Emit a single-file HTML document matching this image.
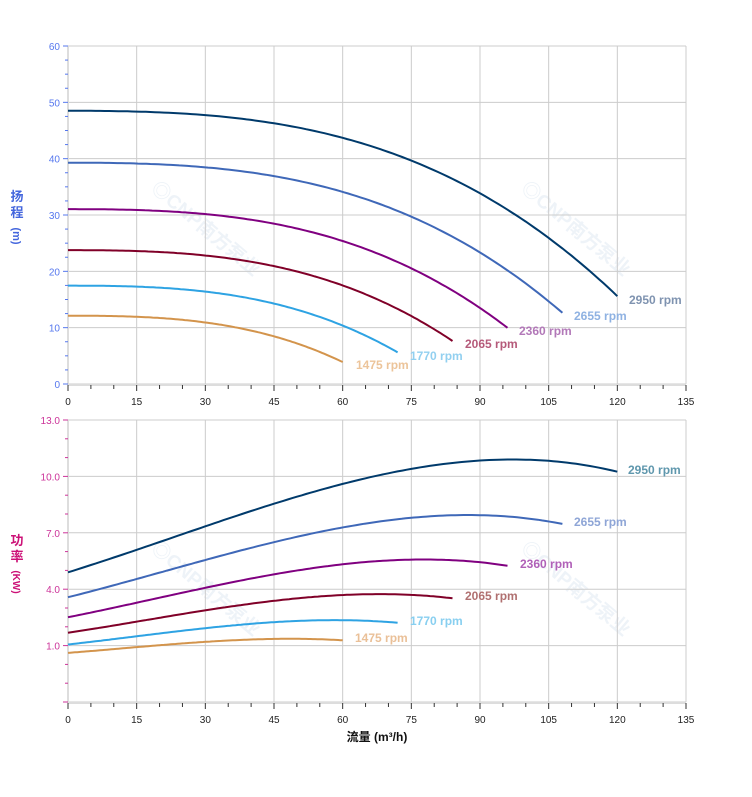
<!DOCTYPE html>
<html><head><meta charset="utf-8"><style>
body{margin:0;background:#fff;}
svg{display:block;font-family:"Liberation Sans","Noto Sans CJK SC",sans-serif;}
</style></head><body>
<svg id="s" width="752" height="797" xmlns="http://www.w3.org/2000/svg"></svg>
<script>
const s=document.getElementById('s');let h='';
const X=q=>68+q*618/135;
const YT=v=>384-v*(338/60);
const YB=v=>420+(13-v)*(282/15);
[[150,190],[520,190],[150,550],[520,550]].forEach(([x,y])=>h+=`<text x="${x}" y="${y}" font-size="19" font-weight="bold" fill="#eef3f8" transform="rotate(40 ${x} ${y})">◎CNP南方泵业</text>`);
for(let q=0;q<=135;q+=15){h+=`<line x1="${X(q)}" y1="46" x2="${X(q)}" y2="384" stroke="#ccc"/>`;h+=`<line x1="${X(q)}" y1="420" x2="${X(q)}" y2="702" stroke="#ccc"/>`;}
for(let v=0;v<=60;v+=10)h+=`<line x1="68" y1="${YT(v)}" x2="686" y2="${YT(v)}" stroke="#ccc"/>`;
for(let v=-2;v<=13;v+=3)h+=`<line x1="68" y1="${YB(v)}" x2="686" y2="${YB(v)}" stroke="#ccc"/>`;
h+=`<line x1="68" y1="46" x2="68" y2="385" stroke="#ddd" stroke-width="2"/><line x1="68" y1="385" x2="686" y2="385" stroke="#ddd" stroke-width="2"/>`;
h+=`<line x1="68" y1="420" x2="68" y2="703" stroke="#ddd" stroke-width="2"/><line x1="68" y1="703" x2="686" y2="703" stroke="#ddd" stroke-width="2"/>`;
for(let q=0;q<=135;q+=5){const b=q%15==0;h+=`<line x1="${X(q)}" y1="385" x2="${X(q)}" y2="${b?391:389}" stroke="#333"/><line x1="${X(q)}" y1="703" x2="${X(q)}" y2="${b?709:707}" stroke="#333"/>`;
if(b){h+=`<text x="${X(q)}" y="405" font-size="10" text-anchor="middle" fill="#222">${q}</text><text x="${X(q)}" y="723" font-size="10" text-anchor="middle" fill="#222">${q}</text>`;}}
for(let v=0;v<=60;v+=2.5){const b=v%10==0;h+=`<line x1="${b?63:65}" y1="${YT(v)}" x2="68" y2="${YT(v)}" stroke="#5577ee"/>`;if(b)h+=`<text x="60" y="${YT(v)+4}" font-size="10" text-anchor="end" fill="#5577ee">${v}</text>`;}
for(let v=-2;v<=13;v+=1){const b=(v-1)%3==0;h+=`<line x1="${b?63:65}" y1="${YB(v)}" x2="68" y2="${YB(v)}" stroke="#cc3399"/>`;if(b&&v>=1)h+=`<text x="60" y="${YB(v)+4}" font-size="10" text-anchor="end" fill="#cc3399">${v.toFixed(1)}</text>`;}
h+=`<text x="17" y="201" font-size="13" fill="#4466dd" font-weight="bold" text-anchor="middle">扬</text><text x="17" y="217" font-size="13" fill="#4466dd" font-weight="bold" text-anchor="middle">程</text><text x="17" y="236" font-size="11" fill="#4466dd" font-weight="bold" text-anchor="middle" transform="rotate(90 17 236)" dy="4">(m)</text>`;
h+=`<text x="17" y="545" font-size="13" fill="#cc1177" font-weight="bold" text-anchor="middle">功</text><text x="17" y="561" font-size="13" fill="#cc1177" font-weight="bold" text-anchor="middle">率</text><text x="17" y="582" font-size="10" fill="#cc1177" font-weight="bold" text-anchor="middle" transform="rotate(90 17 582)" dy="4">(KW)</text>`;
h+=`<text x="377" y="741" font-size="12" font-weight="bold" text-anchor="middle" fill="#111">流量 (m³/h)</text>`;
const Hf=q=>48.5-3.82e-4*q*q-1.586e-5*q*q*q;
const Pf=q=>4.9+0.0754*q+3.544e-4*q*q-5.094e-6*q*q*q;
const sp=[[2950,'#003a6b','#7f93b0','#5f97ad'],[2655,'#3f68b8','#8fb2e2','#8ea5d6'],[2360,'#800080','#b278b8','#b060b8'],[2065,'#800028','#b55a7a','#b07070'],[1770,'#2ea3e3','#92d0f0','#88cff0'],[1475,'#d3944c','#ecc49a','#eac098']];
const tl={2950:[629,304],2655:[574,320],2360:[519,335],2065:[465,348],1770:[410,360],1475:[356,369]};
const bl={2950:[628,474],2655:[574,526],2360:[520,568],2065:[465,600],1770:[410,625],1475:[355,642]};
sp.forEach(([n,c,lc,lc2])=>{const r=n/2950;let a='',b='';for(let i=0;i<=120;i++){const q=i*r;const hv=Hf(i)*r*r;const pv=Pf(i)*r*r*r;a+=(i?'L':'M')+X(q).toFixed(1)+','+YT(hv).toFixed(1);b+=(i?'L':'M')+X(q).toFixed(1)+','+YB(pv).toFixed(1);}
h+=`<path d="${a}" fill="none" stroke="${c}" stroke-width="2"/><path d="${b}" fill="none" stroke="${c}" stroke-width="2"/>`;
h+=`<text x="${tl[n][0]}" y="${tl[n][1]}" font-size="12" font-weight="bold" fill="${lc}">${n} rpm</text><text x="${bl[n][0]}" y="${bl[n][1]}" font-size="12" font-weight="bold" fill="${lc2}">${n} rpm</text>`;});
s.innerHTML=h;
</script>
</body></html>
